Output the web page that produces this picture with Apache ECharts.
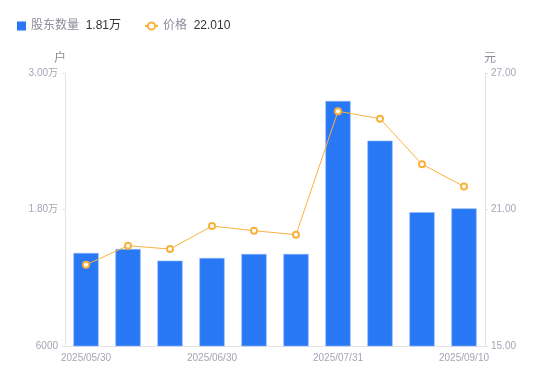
<!DOCTYPE html>
<html>
<head>
<meta charset="utf-8">
<script src="https://cdn.jsdelivr.net/npm/echarts@6/dist/echarts.min.js"></script>
<style>html,body{margin:0;padding:0;background:#fff}#c{width:550px;height:381px}</style>
</head>
<body>
<div id="c"></div>
<script>
const categories = ['2025/05/30','2025/06/10','2025/06/20','2025/06/30','2025/07/10','2025/07/20','2025/07/31','2025/08/20','2025/08/31','2025/09/10'];
const holders = [14180, 14530, 13500, 13740, 14090, 14090, 27540, 24050, 17760, 18100];
const prices = [18.57, 19.41, 19.26, 20.27, 20.07, 19.89, 25.32, 24.99, 22.99, 22.01];
const leftTicks = [6000, 30000, 12000];
const rightTicks = [15, 27, 6];
const legendValues = {'股东数量': '1.81万', '价格': '22.010'};

const chart = echarts.init(document.getElementById('c'), null, {renderer: 'canvas'});
const fmtLeft = v => v >= 10000 ? (v / 10000).toFixed(2) + '万' : String(v);
const legendText = {
  rich: {
    a: {color: '#8a8d99', fontSize: 12},
    b: {color: '#333', fontSize: 12}
  }
};
const legendFmt = n => '{a|' + n + '}  {b|' + legendValues[n] + '}';
chart.setOption({
  animation: false,
  textStyle: {fontFamily: '"Liberation Sans", Arial, "Noto Sans CJK SC", sans-serif'},
  legend: [{
    left: 12, top: 15, itemWidth: 9, itemHeight: 9, itemGap: 6,
    data: [{name: '股东数量', icon: 'rect', itemStyle: {borderWidth: 0}}],
    formatter: legendFmt, textStyle: legendText
  }, {
    left: 139, top: 15, itemWidth: 13, itemHeight: 9, itemGap: 6,
    data: [{name: '价格'}],
    formatter: legendFmt, textStyle: legendText
  }],
  grid: {left: 65, right: 65, top: 73, bottom: 35},
  xAxis: {
    type: 'category', data: categories,
    axisLine: {lineStyle: {color: '#e3e3e6'}},
    axisTick: {show: false},
    axisLabel: {color: '#a3a6b4', fontSize: 10, interval: 2, margin: 7}
  },
  yAxis: [{
    type: 'value', name: '户', min: leftTicks[0], max: leftTicks[1], interval: leftTicks[2],
    nameTextStyle: {color: '#8a8d99', fontSize: 12, padding: [0, 10, 0, 0]}, nameGap: 8,
    axisLine: {show: true, lineStyle: {color: '#e3e3e6'}},
    axisTick: {show: true, length: 3, lineStyle: {color: '#e3e3e6'}},
    splitLine: {show: false},
    axisLabel: {color: '#a3a6b4', fontSize: 10, formatter: fmtLeft, margin: 7}
  }, {
    type: 'value', name: '元', min: rightTicks[0], max: rightTicks[1], interval: rightTicks[2],
    nameTextStyle: {color: '#8a8d99', fontSize: 12, padding: [0, 0, 0, 10]}, nameGap: 8,
    axisLine: {show: true, lineStyle: {color: '#e3e3e6'}},
    axisTick: {show: true, length: 3, lineStyle: {color: '#e3e3e6'}},
    splitLine: {show: false},
    axisLabel: {color: '#a3a6b4', fontSize: 10, formatter: v => v.toFixed(2), margin: 6}
  }],
  series: [{
    name: '股东数量', type: 'bar', data: holders, barWidth: '60%', yAxisIndex: 0,
    itemStyle: {color: '#2878f5', borderColor: '#8fb6f7', borderWidth: 0.6}
  }, {
    name: '价格', type: 'line', data: prices, yAxisIndex: 1,
    symbol: 'emptyCircle', symbolSize: 6, showAllSymbol: true,
    itemStyle: {color: '#f8b23c', borderWidth: 1.5},
    lineStyle: {color: '#f8b23c', width: 1}
  }]
});
</script>
</body>
</html>
